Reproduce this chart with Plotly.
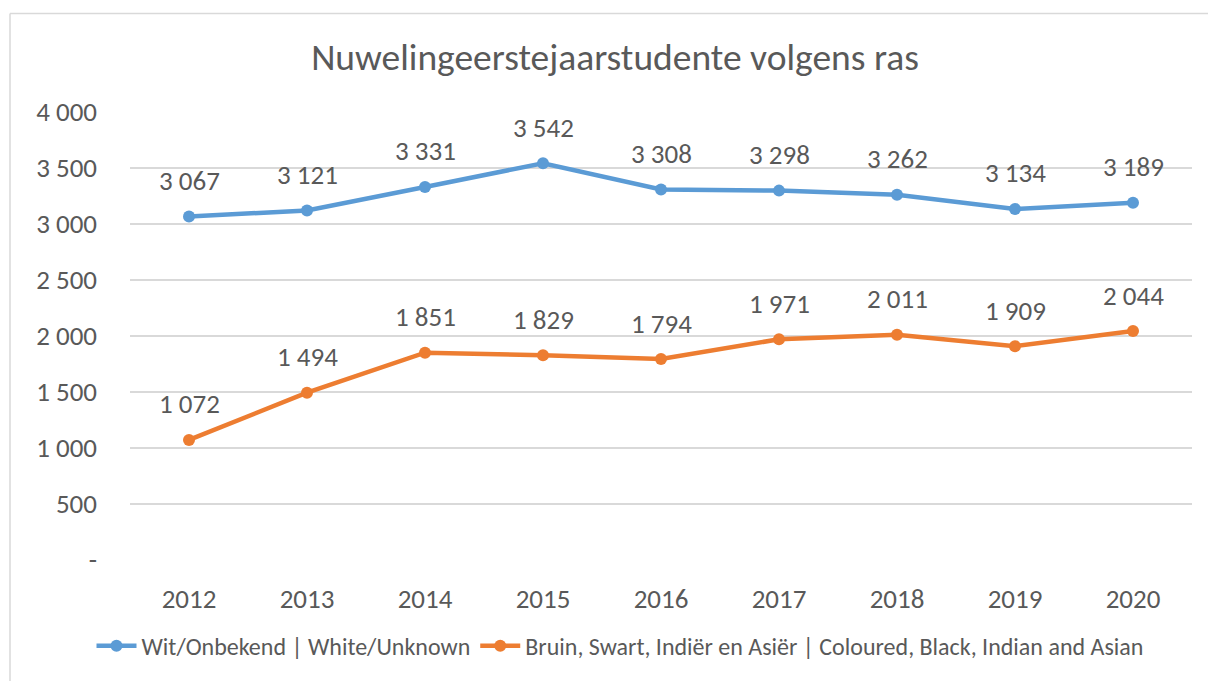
import plotly.graph_objects as go

years = ["2012", "2013", "2014", "2015", "2016", "2017", "2018", "2019", "2020"]
white = [3067, 3121, 3331, 3542, 3308, 3298, 3262, 3134, 3189]
other = [1072, 1494, 1851, 1829, 1794, 1971, 2011, 1909, 2044]
name_white = "Wit/Onbekend | White/Unknown"
name_other = "Bruin, Swart, Indiër en Asiër | Coloured, Black, Indian and Asian"
ytick_vals = [0, 500, 1000, 1500, 2000, 2500, 3000, 3500, 4000]
ytick_text = ["-", "500", "1 000", "1 500", "2 000", "2 500", "3 000", "3 500", "4 000"]

FONT = "Calibri, Carlito, Lato, sans-serif"
TXT = "#595959"
BLUE = "#5B9BD5"
ORANGE = "#ED7D31"

L, R, T, B = 130, 16, 112, 117
PW, PH = 1208 - L - R, 681 - T - B

def fmt(v):
    return f"{v:,}".replace(",", " ")

fig = go.Figure()
fig.add_trace(go.Scatter(x=years, y=white, name=name_white, mode="lines+markers",
                         line=dict(color=BLUE, width=4.5), marker=dict(color=BLUE, size=12)))
fig.add_trace(go.Scatter(x=years, y=other, name=name_other, mode="lines+markers",
                         line=dict(color=ORANGE, width=4.5), marker=dict(color=ORANGE, size=12)))

for series in (white, other):
    for i, v in enumerate(series):
        fig.add_annotation(x=i, y=v, text=fmt(v), showarrow=False, yshift=36,
                           font=dict(family=FONT, size=27, color=TXT))

# outer chart border (left and top edges visible)
bx0 = (10 - L) / PW
by1 = (T + PH - 12.5) / PH
fig.add_shape(type="line", xref="paper", yref="paper", x0=bx0, x1=bx0, y0=-0.4, y1=by1,
              line=dict(color="#D9D9D9", width=1.5), layer="below")
fig.add_shape(type="line", xref="paper", yref="paper", x0=bx0, x1=1.2, y0=by1, y1=by1,
              line=dict(color="#D9D9D9", width=1.5), layer="below")

fig.update_layout(
    width=1208, height=681,
    margin=dict(l=L, r=R, t=T, b=B, pad=0),
    paper_bgcolor="white", plot_bgcolor="white",
    title=dict(text="Nuwelingeerstejaarstudente volgens ras", x=(615 - L) / PW, xref="paper",
               xanchor="center", y=1 - 57 / 681, yanchor="middle",
               font=dict(family=FONT, size=37.5, color=TXT)),
    font=dict(family=FONT, color=TXT),
    showlegend=True,
    legend=dict(orientation="h", x=(620 - L) / PW, xanchor="center",
                y=-(651 - (T + PH)) / PH, yanchor="middle",
                font=dict(family=FONT, size=24, color=TXT), itemwidth=40),
    xaxis=dict(type="category", range=[-0.5, 8.5], showgrid=False, showline=False, zeroline=False,
               tickfont=dict(family=FONT, size=27, color=TXT), ticks="", ticklabelstandoff=20),
    yaxis=dict(range=[0, 4000], tickvals=ytick_vals, ticktext=ytick_text,
               showgrid=True, gridcolor="#D9D9D9", gridwidth=1.5, zeroline=False,
               tickfont=dict(family=FONT, size=27, color=TXT), ticklabelstandoff=32),
)

fig.write_html("out.html", config={"displayModeBar": False},
               post_script="document.body.style.margin='0';document.body.style.overflow='hidden';")
